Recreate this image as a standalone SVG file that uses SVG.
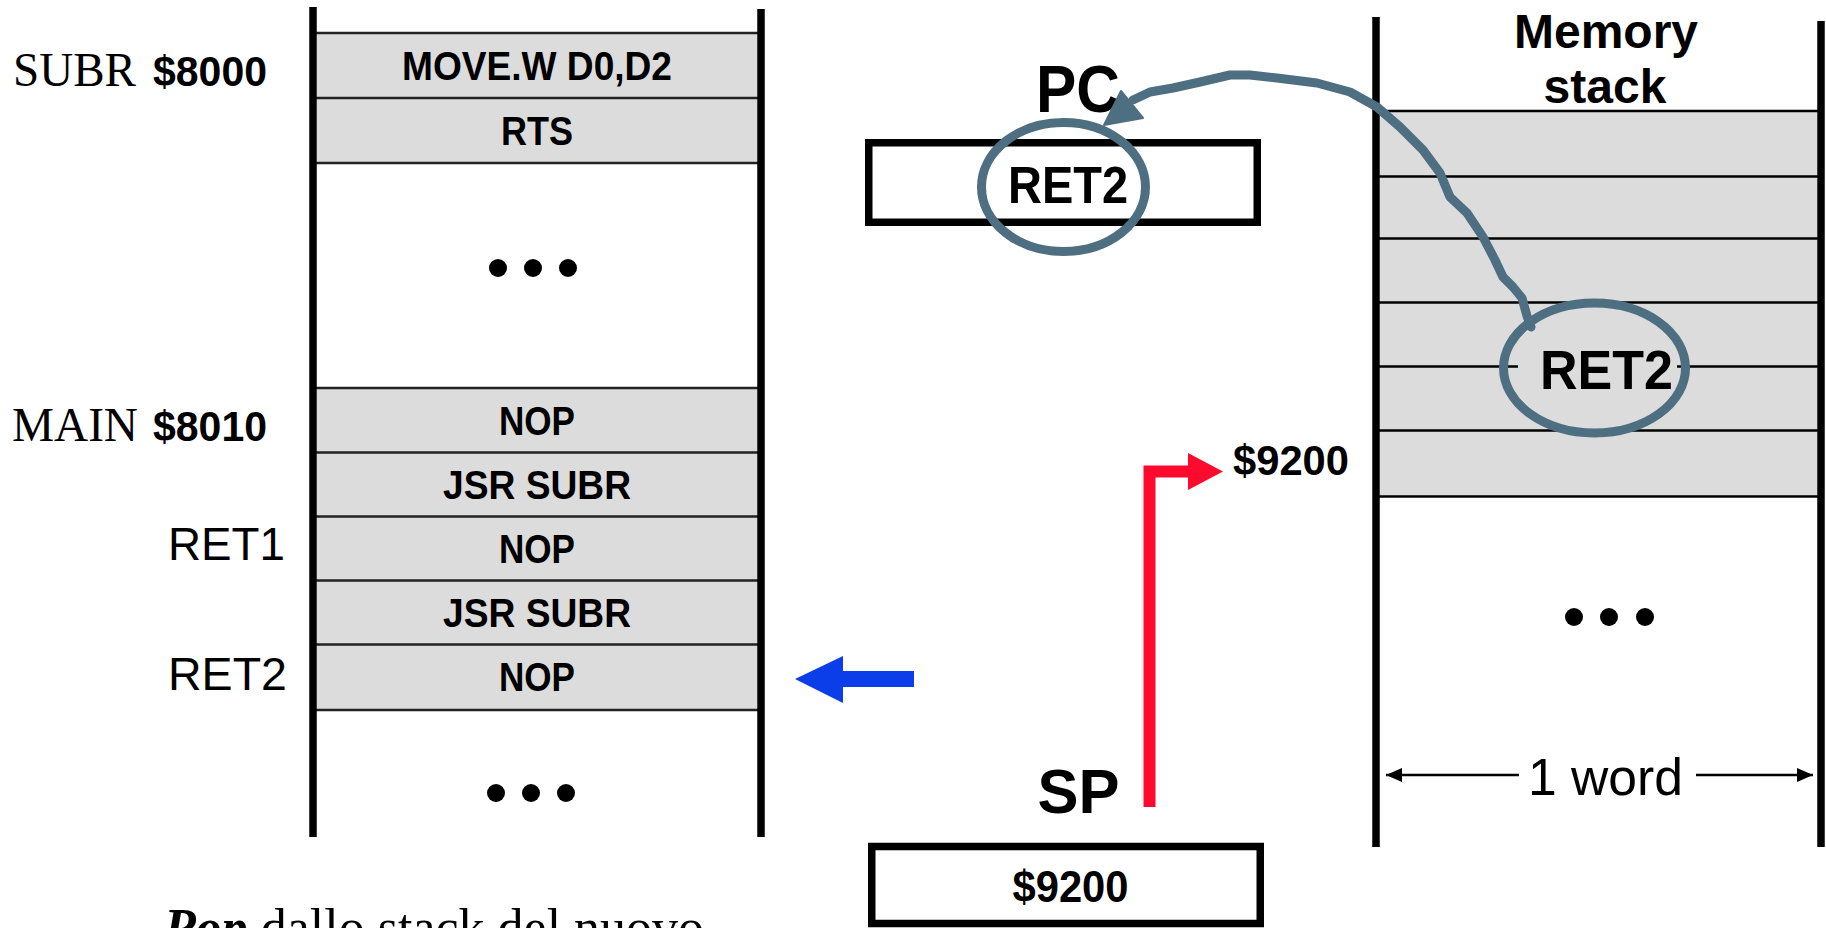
<svg xmlns="http://www.w3.org/2000/svg" width="1826" height="928" viewBox="0 0 1826 928">
<style>
.bar{stroke:#000;stroke-width:7.5;fill:none}
.row{fill:#dcdcdc}
.rl{stroke:#222;stroke-width:2.5}
.sl{stroke:#000;stroke-width:2.5}
.b{font-family:"Liberation Sans",Arial,Helvetica,sans-serif;font-weight:bold;fill:#000}
.r{font-family:"Liberation Sans",Arial,Helvetica,sans-serif;font-weight:normal;fill:#000}
.s{font-family:"Liberation Serif","Times New Roman",serif;fill:#000}
.mid{text-anchor:middle}
.reg{fill:#fff;stroke:#000;stroke-width:7.5}
.hl{fill:none;stroke:#4e6e82;stroke-width:9}
.dot{fill:#000}
</style>
<defs>
<marker id="dimArrow" viewBox="0 0 16 14" refX="16" refY="7" markerWidth="16" markerHeight="14" markerUnits="userSpaceOnUse" orient="auto-start-reverse">
<path d="M0,0 L16,7 L0,14 Z" fill="#000"/>
</marker>
</defs>
<rect width="1826" height="928" fill="#fff"/>

<g id="program-memory">
<rect class="row" x="317" y="33" width="440" height="130"/>
<rect class="row" x="317" y="388" width="440" height="322"/>
<line class="rl" x1="313" y1="33" x2="761" y2="33"/>
<line class="rl" x1="313" y1="98" x2="761" y2="98"/>
<line class="rl" x1="313" y1="163" x2="761" y2="163"/>
<line class="rl" x1="313" y1="388" x2="761" y2="388"/>
<line class="rl" x1="313" y1="452.5" x2="761" y2="452.5"/>
<line class="rl" x1="313" y1="516.5" x2="761" y2="516.5"/>
<line class="rl" x1="313" y1="580.5" x2="761" y2="580.5"/>
<line class="rl" x1="313" y1="644.5" x2="761" y2="644.5"/>
<line class="rl" x1="313" y1="710" x2="761" y2="710"/>
<line class="bar" x1="313" y1="7" x2="313" y2="837"/>
<line class="bar" x1="761" y1="9" x2="761" y2="837"/>
<text class="b mid" x="537" y="80" font-size="40" textLength="270" lengthAdjust="spacingAndGlyphs">MOVE.W D0,D2</text>
<text class="b mid" x="537" y="145" font-size="40" textLength="72" lengthAdjust="spacingAndGlyphs">RTS</text>
<text class="b mid" x="537" y="435" font-size="40" textLength="76" lengthAdjust="spacingAndGlyphs">NOP</text>
<text class="b mid" x="537" y="499" font-size="40" textLength="188" lengthAdjust="spacingAndGlyphs">JSR SUBR</text>
<text class="b mid" x="537" y="563" font-size="40" textLength="76" lengthAdjust="spacingAndGlyphs">NOP</text>
<text class="b mid" x="537" y="627" font-size="40" textLength="188" lengthAdjust="spacingAndGlyphs">JSR SUBR</text>
<text class="b mid" x="537" y="691" font-size="40" textLength="76" lengthAdjust="spacingAndGlyphs">NOP</text>
<circle class="dot" cx="498" cy="268" r="9"/>
<circle class="dot" cx="533" cy="268" r="9"/>
<circle class="dot" cx="568" cy="268" r="9"/>
<circle class="dot" cx="496" cy="793" r="9"/>
<circle class="dot" cx="531" cy="793" r="9"/>
<circle class="dot" cx="566" cy="793" r="9"/>
</g>

<g id="address-labels">
<text x="13" y="86" font-size="48" class="s" textLength="123" lengthAdjust="spacingAndGlyphs">SUBR</text>
<text x="153" y="86" font-size="43" class="b" textLength="114" lengthAdjust="spacingAndGlyphs">$8000</text>
<text x="12" y="441" font-size="48" class="s" textLength="126" lengthAdjust="spacingAndGlyphs">MAIN</text>
<text x="153" y="441" font-size="43" class="b" textLength="114" lengthAdjust="spacingAndGlyphs">$8010</text>
<text x="168" y="560" font-size="47" class="r" textLength="117" lengthAdjust="spacingAndGlyphs">RET1</text>
<text x="168" y="690" font-size="47" class="r" textLength="119" lengthAdjust="spacingAndGlyphs">RET2</text>
</g>

<g id="pc-register">
<text class="b" x="1036" y="111.5" font-size="66" textLength="84" lengthAdjust="spacingAndGlyphs">PC</text>
<rect class="reg" x="868.75" y="142.75" width="388.5" height="79.5"/>
<text class="b" x="1008" y="202.5" font-size="51" textLength="120" lengthAdjust="spacingAndGlyphs">RET2</text>
<ellipse class="hl" cx="1063.5" cy="187" rx="82" ry="64.5"/>
</g>

<g id="sp-register">
<text class="b" x="1037.5" y="813" font-size="63" textLength="82" lengthAdjust="spacingAndGlyphs">SP</text>
<rect class="reg" x="871.75" y="846.5" width="388.5" height="77"/>
<text class="b" x="1012.5" y="901.5" font-size="44" textLength="116" lengthAdjust="spacingAndGlyphs">$9200</text>
</g>

<g id="memory-stack">
<text class="b mid" x="1606" y="48" font-size="48">Memory</text>
<text class="b mid" x="1605" y="103" font-size="48">stack</text>
<rect class="row" x="1380" y="111" width="437" height="385.5"/>
<line class="sl" x1="1376" y1="111" x2="1821" y2="111"/>
<line class="sl" x1="1376" y1="176.5" x2="1821" y2="176.5"/>
<line class="sl" x1="1376" y1="238.5" x2="1821" y2="238.5"/>
<line class="sl" x1="1376" y1="302.5" x2="1821" y2="302.5"/>
<line class="sl" x1="1376" y1="366.5" x2="1821" y2="366.5"/>
<line class="sl" x1="1376" y1="430.5" x2="1821" y2="430.5"/>
<line class="sl" x1="1376" y1="496.5" x2="1821" y2="496.5"/>
<line class="bar" x1="1376" y1="17" x2="1376" y2="847"/>
<line class="bar" x1="1821" y1="21" x2="1821" y2="847"/>
<rect class="row" x="1518" y="344" width="159" height="48"/>
<text class="b" x="1540" y="389" font-size="56" textLength="133" lengthAdjust="spacingAndGlyphs">RET2</text>
<ellipse class="hl" cx="1594.5" cy="368" rx="91" ry="65"/>
<circle class="dot" cx="1574" cy="617" r="9"/>
<circle class="dot" cx="1609" cy="617" r="9"/>
<circle class="dot" cx="1645" cy="617" r="9"/>
<text class="r" x="1528" y="795" font-size="52" textLength="155" lengthAdjust="spacingAndGlyphs">1 word</text>
</g>

<g id="stack-address">
<text class="b" x="1233" y="475" font-size="42" textLength="116" lengthAdjust="spacingAndGlyphs">$9200</text>
</g>

<g id="connectors">
<path d="M795,679 L843,656 L843,671 L914,671 L914,687 L843,687 L843,703 Z" fill="#0b3ee8"/>
<path d="M1143.5,807 L1143.5,465.5 L1188,465.5 L1188,453 L1223,471.5 L1188,490 L1188,477.5 L1155.5,477.5 L1155.5,807 Z" fill="#fe0a2e"/>
<path d="M1531,327 L1527,316 L1522,298 L1513,287 L1503,277 L1495,260 L1483,237 L1467,213 L1450,197 L1440,173 L1423,150 L1400,127 L1377,107 L1350,92 L1317,83 L1277,78 L1250,75 L1230,75 L1200,82 L1173,88 L1150,92 L1133,100" fill="none" stroke="#4e6e82" stroke-width="9" stroke-linejoin="round" stroke-linecap="round"/>
<path d="M1104,125 L1121,91 L1143,118 Z" fill="#4e6e82" stroke="#4e6e82" stroke-width="2" stroke-linejoin="round"/>
<line x1="1519" y1="775" x2="1386" y2="775" stroke="#000" stroke-width="2.5" marker-end="url(#dimArrow)"/>
<line x1="1696" y1="775" x2="1813" y2="775" stroke="#000" stroke-width="2.5" marker-end="url(#dimArrow)"/>
</g>

<g id="caption">
<text class="s" x="164" y="945" font-size="52"><tspan font-weight="bold" font-style="italic">Pop</tspan> dallo stack del nuovo</text>
</g>
</svg>
